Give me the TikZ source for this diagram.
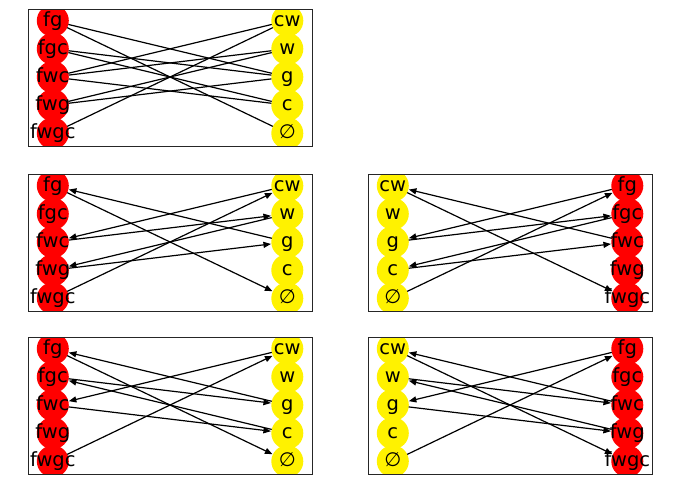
\documentclass[tikz,border=0pt]{standalone}
\usepackage{fontspec}
\setmainfont{DejaVu Sans}
\usepackage{tikz}
\usetikzlibrary{arrows.meta}

\begin{document}
\begin{tikzpicture}[x=1pt, y=-1pt,
  st/.style={circle, minimum size=32pt, inner sep=0pt, outer sep=0pt},
  farmer/.style={st, fill=red},
  away/.style={st, fill=yellow},
  tag/.style={inner sep=0pt, font=\fontsize{19.5}{22}\selectfont, text height=14.8pt, text depth=4.1pt},
  frame/.style={draw=black!85, line width=1pt},
  link/.style={line width=1.2pt},
  arr/.style={link, -{Triangle[length=7.5pt, width=6pt]}, shorten >=0.5pt}
]
\useasboundingbox (0,0) rectangle (700,499);

% all crossings
\begin{scope}[shift={(28.3,9.3)}]
  \clip (0,0) rectangle (284,137.4);
  \foreach \s [count=\i from 0] in {fg,fgc,fwc,fwg,fwgc}
    \node[farmer] (A\s) at (24.5,11.4+28.15*\i) {};
  \foreach \s [count=\i from 0] in {cw,w,g,c,none}
    \node[away] (A\s) at (259,11.4+28.15*\i) {};
  \draw[link] (Afg) -- (Ag);
  \draw[link] (Afg) -- (Anone);
  \draw[link] (Afgc) -- (Ag);
  \draw[link] (Afgc) -- (Ac);
  \draw[link] (Afwc) -- (Acw);
  \draw[link] (Afwc) -- (Aw);
  \draw[link] (Afwc) -- (Ac);
  \draw[link] (Afwg) -- (Aw);
  \draw[link] (Afwg) -- (Ag);
  \draw[link] (Afwgc) -- (Acw);
  \foreach \s/\t in {fg/fg,fgc/fgc,fwc/fwc,fwg/fwg,fwgc/fwgc,cw/cw,w/w,g/g,c/c,none/∅}
    \node[tag] (A\s-t) at (A\s) {\t};
\end{scope}
\draw[frame] (28.3,9.3) rectangle ++(284,137.4);

% first solution, forward
\begin{scope}[shift={(28.3,174.3)}]
  \clip (0,0) rectangle (284,137.4);
  \foreach \s [count=\i from 0] in {fg,fgc,fwc,fwg,fwgc}
    \node[farmer] (B\s) at (24.5,11.4+28.15*\i) {};
  \foreach \s [count=\i from 0] in {cw,w,g,c,none}
    \node[away] (B\s) at (259,11.4+28.15*\i) {};
  \draw[arr] (Bfwgc) -- (Bcw);
  \draw[arr] (Bcw) -- (Bfwc);
  \draw[arr] (Bfwc) -- (Bw);
  \draw[arr] (Bw) -- (Bfwg);
  \draw[arr] (Bfwg) -- (Bg);
  \draw[arr] (Bg) -- (Bfg);
  \draw[arr] (Bfg) -- (Bnone);
  \foreach \s/\t in {fg/fg,fgc/fgc,fwc/fwc,fwg/fwg,fwgc/fwgc,cw/cw,w/w,g/g,c/c,none/∅}
    \node[tag] (B\s-t) at (B\s) {\t};
\end{scope}
\draw[frame] (28.3,174.3) rectangle ++(284,137.4);

% second solution, backward
\begin{scope}[shift={(368.3,174.3)}]
  \clip (0,0) rectangle (284,137.4);
  \foreach \s [count=\i from 0] in {cw,w,g,c,none}
    \node[away] (C\s) at (24.5,11.4+28.15*\i) {};
  \foreach \s [count=\i from 0] in {fg,fgc,fwc,fwg,fwgc}
    \node[farmer] (C\s) at (259,11.4+28.15*\i) {};
  \draw[arr] (Cnone) -- (Cfg);
  \draw[arr] (Cfg) -- (Cg);
  \draw[arr] (Cg) -- (Cfgc);
  \draw[arr] (Cfgc) -- (Cc);
  \draw[arr] (Cc) -- (Cfwc);
  \draw[arr] (Cfwc) -- (Ccw);
  \draw[arr] (Ccw) -- (Cfwgc);
  \foreach \s/\t in {fg/fg,fgc/fgc,fwc/fwc,fwg/fwg,fwgc/fwgc,cw/cw,w/w,g/g,c/c,none/∅}
    \node[tag] (C\s-t) at (C\s) {\t};
\end{scope}
\draw[frame] (368.3,174.3) rectangle ++(284,137.4);

% second solution, forward
\begin{scope}[shift={(28.3,337.3)}]
  \clip (0,0) rectangle (284,137.4);
  \foreach \s [count=\i from 0] in {fg,fgc,fwc,fwg,fwgc}
    \node[farmer] (D\s) at (24.5,11.4+28.15*\i) {};
  \foreach \s [count=\i from 0] in {cw,w,g,c,none}
    \node[away] (D\s) at (259,11.4+28.15*\i) {};
  \draw[arr] (Dfwgc) -- (Dcw);
  \draw[arr] (Dcw) -- (Dfwc);
  \draw[arr] (Dfwc) -- (Dc);
  \draw[arr] (Dc) -- (Dfgc);
  \draw[arr] (Dfgc) -- (Dg);
  \draw[arr] (Dg) -- (Dfg);
  \draw[arr] (Dfg) -- (Dnone);
  \foreach \s/\t in {fg/fg,fgc/fgc,fwc/fwc,fwg/fwg,fwgc/fwgc,cw/cw,w/w,g/g,c/c,none/∅}
    \node[tag] (D\s-t) at (D\s) {\t};
\end{scope}
\draw[frame] (28.3,337.3) rectangle ++(284,137.4);

% first solution, backward
\begin{scope}[shift={(368.3,337.3)}]
  \clip (0,0) rectangle (284,137.4);
  \foreach \s [count=\i from 0] in {cw,w,g,c,none}
    \node[away] (E\s) at (24.5,11.4+28.15*\i) {};
  \foreach \s [count=\i from 0] in {fg,fgc,fwc,fwg,fwgc}
    \node[farmer] (E\s) at (259,11.4+28.15*\i) {};
  \draw[arr] (Enone) -- (Efg);
  \draw[arr] (Efg) -- (Eg);
  \draw[arr] (Eg) -- (Efwg);
  \draw[arr] (Efwg) -- (Ew);
  \draw[arr] (Ew) -- (Efwc);
  \draw[arr] (Efwc) -- (Ecw);
  \draw[arr] (Ecw) -- (Efwgc);
  \foreach \s/\t in {fg/fg,fgc/fgc,fwc/fwc,fwg/fwg,fwgc/fwgc,cw/cw,w/w,g/g,c/c,none/∅}
    \node[tag] (E\s-t) at (E\s) {\t};
\end{scope}
\draw[frame] (368.3,337.3) rectangle ++(284,137.4);
\end{tikzpicture}
\end{document}
